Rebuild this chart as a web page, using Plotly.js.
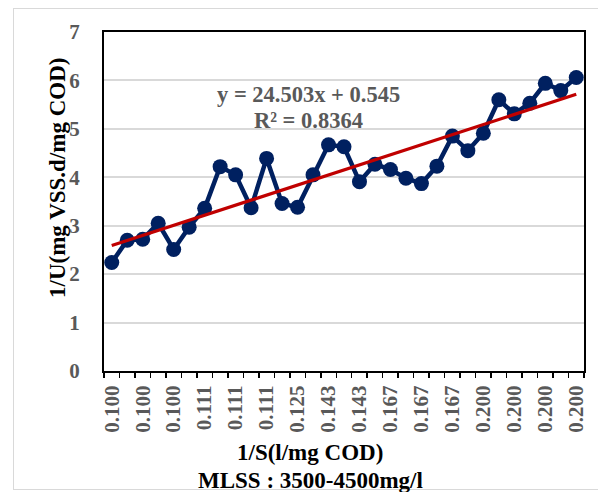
<!DOCTYPE html>
<html>
<head>
<meta charset="utf-8">
<script src="https://cdn.plot.ly/plotly-3.0.1.min.js"></script>
<style>
    body { margin: 0; background: #fff; }
    #wrap { position: relative; width: 598px; height: 492px; }
    #frame { position: absolute; left: 13px; top: 8px; width: 600px; height: 480px; border: 1px solid #d9d9d9; }
    #chart { position: absolute; left: 0; top: 0; width: 598px; height: 492px; }
</style>
</head>
<body>
<div id="wrap">
    <div id="frame"></div>
    <div id="chart"></div>
</div>
<script>
// 1/S values for each run (category axis, every other label shown)
const invS = [
    "0.100", "0.100", "0.100", "0.100", "0.100", "0.100",
    "0.111", "0.111", "0.111", "0.111", "0.111", "0.111",
    "0.125", "0.125",
    "0.143", "0.143", "0.143", "0.143",
    "0.167", "0.167", "0.167", "0.167", "0.167", "0.167",
    "0.200", "0.200", "0.200", "0.200", "0.200", "0.200", "0.200"
]

// 1/U values
const invU = [
    2.24, 2.70, 2.72, 3.05, 2.51, 2.97, 3.36, 4.22, 4.05, 3.37, 4.39,
    3.46, 3.38, 4.05, 4.67, 4.63, 3.91, 4.27, 4.16, 3.98, 3.87,
    4.23, 4.85, 4.55, 4.91, 5.60, 5.31, 5.53, 5.94, 5.79, 6.06
]

const eqText = "y = 24.503x + 0.545"
const r2Text = "R² = 0.8364"

const idx = invU.map((v, i) => i)

// linear trendline over point order (as Excel does on a line chart)
const n = invU.length
const mx = idx.reduce((a, b) => a + b, 0) / n
const my = invU.reduce((a, b) => a + b, 0) / n
let sxy = 0, sxx = 0
idx.forEach((x, i) => {
    sxy += (x - mx) * (invU[i] - my)
    sxx += (x - mx) * (x - mx)
})
const slope = sxy / sxx
const icpt = my - slope * mx
const trendY = idx.map(x => icpt + slope * x)

const tickIdx = idx.filter(i => i % 2 === 0)
const tickLbl = tickIdx.map(i => invS[i])

const serif = "Liberation Serif, Times New Roman, serif"

const dataTrace = {
    x: idx,
    y: invU,
    type: "scatter",
    mode: "lines+markers",
    line: { color: "#002060", width: 4.5 },
    marker: { color: "#002060", size: 15 },
    hoverinfo: "x+y",
}

const trendTrace = {
    x: [idx[0], idx[n - 1]],
    y: [trendY[0], trendY[n - 1]],
    type: "scatter",
    mode: "lines",
    line: { color: "#c00000", width: 3.2 },
    hoverinfo: "skip",
}

const layout = {
    width: 598,
    height: 492,
    showlegend: false,
    paper_bgcolor: "rgba(0,0,0,0)",
    plot_bgcolor: "#fff",
    margin: { l: 104, r: 14, t: 32, b: 121 },
    font: { family: serif, color: "#595959" },
    xaxis: {
        range: [-0.5, n - 0.5],
        tickmode: "array",
        tickvals: tickIdx,
        ticktext: tickLbl,
        tickangle: -90,
        ticks: "",
        tickfont: { family: serif, size: 21, color: "#595959", weight: "bold" },
        ticklabelstandoff: 4,
        minor: { tick0: -0.5, dtick: 1, ticks: "outside", ticklen: 5, tickwidth: 1.5, tickcolor: "#000", showgrid: false },
        showgrid: false,
        zeroline: false,
        showline: true,
        linecolor: "#000",
        linewidth: 2,
        mirror: true,
    },
    yaxis: {
        range: [0, 7],
        dtick: 1,
        ticks: "",
        tickfont: { family: serif, size: 21, color: "#595959", weight: "bold" },
        ticklabelstandoff: 18,
        gridcolor: "#d9d9d9",
        gridwidth: 2,
        zeroline: false,
        showline: true,
        linecolor: "#000",
        linewidth: 2,
        mirror: true,
    },
    annotations: [
        {
            text: "1/U(mg VSS.d/mg COD)",
            xref: "paper", yref: "paper",
            x: (57 - 104) / 480, y: (371 - 178) / 339,
            xanchor: "center", yanchor: "middle",
            textangle: -90, showarrow: false,
            font: { family: serif, size: 23, color: "#000", weight: "bold" },
        },
        {
            text: "1/S(l/mg COD)",
            xref: "paper", yref: "paper",
            x: (310 - 104) / 480, y: -(452 - 371) / 339,
            xanchor: "center", yanchor: "middle", showarrow: false,
            font: { family: serif, size: 23, color: "#000", weight: "bold" },
        },
        {
            text: "MLSS : 3500-4500mg/l",
            xref: "paper", yref: "paper",
            x: (310 - 104) / 480, y: -(480 - 371) / 339,
            xanchor: "center", yanchor: "middle", showarrow: false,
            font: { family: serif, size: 23, color: "#000", weight: "bold" },
        },
        {
            text: eqText,
            xref: "paper", yref: "paper",
            x: (308 - 104) / 480, y: (371 - 95) / 339,
            xanchor: "center", yanchor: "middle", showarrow: false,
            font: { family: serif, size: 22.5, color: "#595959", weight: "bold" },
        },
        {
            text: r2Text,
            xref: "paper", yref: "paper",
            x: (308 - 104) / 480, y: (371 - 120) / 339,
            xanchor: "center", yanchor: "middle", showarrow: false,
            font: { family: serif, size: 22.5, color: "#595959", weight: "bold" },
        },
    ],
}

Plotly.newPlot("chart", [dataTrace, trendTrace], layout, { displayModeBar: false, staticPlot: true })
</script>
</body>
</html>
